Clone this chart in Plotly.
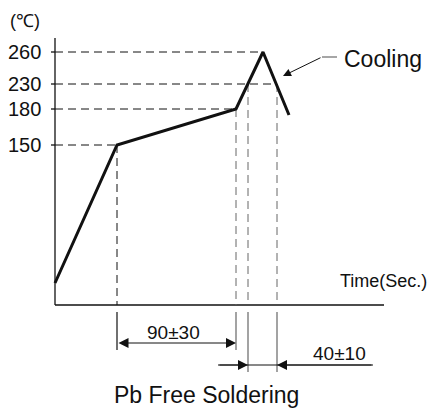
import plotly.graph_objects as go

# ---- data (schematic reflow profile) ----
temp_labels = ["150", "180", "230", "260"]
temp_levels = [160, 196, 221, 253]          # drawing height of each temperature level
profile_t = [0, 62, 181, 208, 234]          # time axis positions of the profile corners
profile_y = [22, 160, 196, 253, 190]        # profile heights
cross_230 = [193, 222]                       # where the profile crosses 230 on the way up / down
dim1_label = "90±30"
dim2_label = "40±10"
x_axis_end = 329
y_axis_top = 267

FONT = "Liberation Sans, Arial, sans-serif"
BLACK = "#111111"
GREY = "#666666"

fig = go.Figure()

def line(xs, ys, color=BLACK, width=1, dash=None):
    fig.add_trace(go.Scatter(x=xs, y=ys, mode="lines",
                             line=dict(color=color, width=width, dash=dash),
                             hoverinfo="skip", showlegend=False))

# axes
line([0, 0], [0, y_axis_top], width=1.3)
line([0, x_axis_end], [0, 0], width=1.3)
for lv in temp_levels:
    line([-4, 0], [lv, lv], width=1.3)

# horizontal dashed guides
t150, t180, t260 = profile_t[1], profile_t[2], profile_t[3]
h150, h180, h230, h260 = temp_levels
DASH = "8px,5px"
line([0, t150], [h150, h150], dash=DASH)
line([0, t180], [h180, h180], dash=DASH)
line([0, cross_230[1]], [h230, h230], dash=DASH)
line([0, t260], [h260, h260], dash=DASH)

# vertical dashed guides
line([t150, t150], [h150, 0], dash=DASH)
line([t180, t180], [h180, 0], color=GREY, dash=DASH)
line([cross_230[0], cross_230[0]], [h230, 0], color=GREY, dash=DASH)
line([cross_230[1], cross_230[1]], [h230, 0], color=GREY, dash=DASH)

# extension lines below the time axis
line([t150, t150], [-7, -45], width=1.2)
line([t180, t180], [-7, -45], color=GREY, width=1.2)
line([cross_230[0], cross_230[0]], [-7, -67], color=GREY, width=1.2)
line([cross_230[1], cross_230[1]], [-7, -67], color=GREY, width=1.2)

# profile
fig.add_trace(go.Scatter(x=profile_t, y=profile_y, mode="lines",
                         line=dict(color=BLACK, width=3),
                         hoverinfo="skip", showlegend=False))

# dimension lines
line([cross_230[0] - 30, x_axis_end - 11], [-60, -60], width=1)
# cooling leader
line([267, 282], [248, 248], color="#888888", width=1.5)

ann = []
def arrow(x, y, ax, ay, side="end", size=2.0, width=1):
    ann.append(dict(x=x, y=y, ax=ax, ay=ay, xref="x", yref="y", axref="x", ayref="y",
                    text="", showarrow=True, arrowhead=2, arrowsize=size,
                    arrowwidth=width, arrowcolor=BLACK, arrowside=side, standoff=0,
                    startstandoff=0, startarrowhead=2, startarrowsize=size))

arrow(t180, -38, t150, -38, side="end+start")
arrow(cross_230[0], -60, cross_230[0] - 30, -60)
arrow(cross_230[1], -60, x_axis_end - 11, -60)
arrow(228, 229, 267, 248, size=1.6)

def text(x, y, s, size, anchor="center"):
    ann.append(dict(x=x, y=y, xref="x", yref="y", text=s, showarrow=False,
                    xanchor=anchor, yanchor="middle",
                    font=dict(family=FONT, size=size, color=BLACK)))

for lab, lv in zip(temp_labels, temp_levels):
    ann.append(dict(x=0, y=lv, xref="x", yref="y", text=lab, showarrow=False,
                    xanchor="right", yanchor="middle", xshift=-12,
                    font=dict(family=FONT, size=20, color=BLACK)))

text(-30, 284, "(℃)", 18)
text(287, 246, "Cooling", 23, anchor="left")
text(283, 24, "Time(Sec.)", 18, anchor="left")
text(118, -27, dim1_label, 19)
text(284, -48, dim2_label, 19)
text(151, -90, "Pb Free Soldering", 23)

fig.update_layout(
    width=431, height=408,
    margin=dict(l=0, r=0, t=0, b=0),
    paper_bgcolor="white", plot_bgcolor="white",
    xaxis=dict(range=[-55, 376], visible=False, fixedrange=True),
    yaxis=dict(range=[-103, 305], visible=False, fixedrange=True),
    annotations=ann,
    showlegend=False,
)

fig.write_html("out.html", config={"displayModeBar": False},
               post_script="document.body.style.margin='0';document.body.style.overflow='hidden';")
